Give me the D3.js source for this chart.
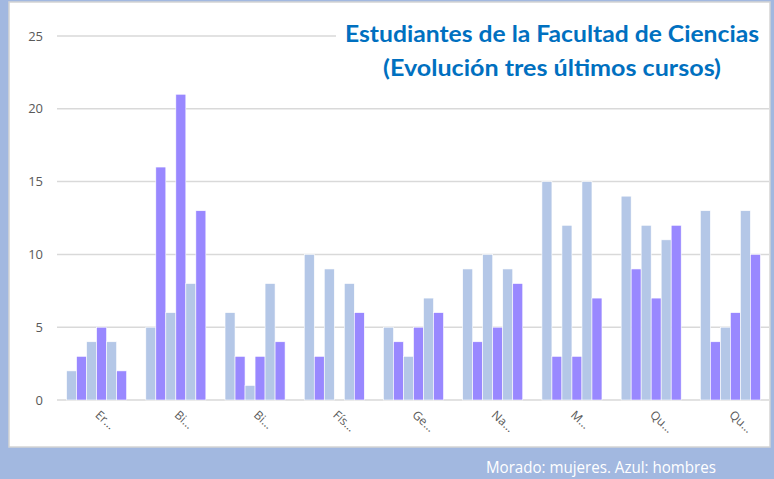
<!DOCTYPE html>
<html>
<head>
<meta charset="utf-8">
<script src="https://cdn.jsdelivr.net/npm/d3@7"></script>
<style>
  body { margin: 0; background: #a2b8e0; }
  svg { display: block; }
</style>
</head>
<body>
<svg id="chart" width="774" height="479"></svg>
<script>
// categorias (nombres cortados como en el original)
const categories = ["Er…", "Bi…", "Bi…", "Fís…", "Ge…", "Na…", "M…", "Qu…", "Qu…"];
const series = ["h1", "m1", "h2", "m2", "h3", "m3"]; // hombres / mujeres por curso
const yTicks = [0, 5, 10, 15, 20, 25];

// valores por categoria, en el orden de series
const er = [2, 3, 4, 5, 4, 2];
const bi1 = [5, 16, 6, 21, 8, 13];
const bi2 = [6, 3, 1, 3, 8, 4];
const fis = [10, 3, 9, 0, 8, 6];
const geo = [5, 4, 3, 5, 7, 6];
const nat = [9, 4, 10, 5, 9, 8];
const mat = [15, 3, 12, 3, 15, 7];
const qu1 = [14, 9, 12, 7, 11, 12];
const qu2 = [13, 4, 5, 6, 13, 10];
const values = [er, bi1, bi2, fis, geo, nat, mat, qu1, qu2];

const svg = d3.select("#chart");

// panel blanco
svg.append("rect")
  .attr("x", 9).attr("y", 2)
  .attr("width", 761).attr("height", 445)
  .attr("fill", "#fff")
  .attr("stroke", "#d4d4d4")
  .attr("stroke-width", 1.5);

const x0 = d3.scaleBand()
  .domain(d3.range(categories.length))
  .range([57, 770])
  .padding(0);

const pad = x0.bandwidth() * 0.121;
const x1 = d3.scaleBand()
  .domain(series)
  .range([pad, x0.bandwidth() - pad]);

const y = d3.scaleLinear().domain([0, 25]).range([400, 36]);

// lineas de la rejilla
svg.append("g")
  .selectAll("line")
  .data(yTicks)
  .join("line")
  .attr("x1", 57)
  .attr("x2", 769)
  .attr("y1", (d) => y(d))
  .attr("y2", (d) => y(d))
  .attr("stroke", "#d9d9d9")
  .attr("stroke-width", 1.5);

// eje y
const yAxis = svg.append("g")
  .attr("transform", "translate(43,0)")
  .call(d3.axisLeft(y).tickValues(yTicks).tickSize(0).tickPadding(0));
yAxis.select(".domain").remove();
yAxis.selectAll("text")
  .attr("fill", "#595959")
  .attr("font-family", "Open Sans, sans-serif")
  .attr("font-size", 13);

// barras
const colors = { h: "#b4c7e7", m: "#9988ff" };
const groups = svg.append("g")
  .selectAll("g")
  .data(values)
  .join("g")
  .attr("transform", (d, i) => "translate(" + x0(i) + ",0)");

groups.selectAll("rect")
  .data((d) => d.map((v, j) => ({ key: series[j], value: v })))
  .join("rect")
  .attr("x", (d) => x1(d.key))
  .attr("width", x1.bandwidth())
  .attr("y", (d) => y(d.value))
  .attr("height", (d) => y(0) - y(d.value))
  .attr("fill", (d) => colors[d.key[0]])
  .attr("stroke", "#fff")
  .attr("stroke-width", 0.6);

// eje x (solo etiquetas giradas)
svg.append("g")
  .selectAll("text")
  .data(categories)
  .join("text")
  .attr("transform", (d, i) => "translate(" + (x0(i) + x0.bandwidth() / 2 - 2) + ",416) rotate(42)")
  .attr("fill", "#595959")
  .attr("font-family", "Open Sans, sans-serif")
  .attr("font-size", 12)
  .text((d) => d);

// titulo con fondo blanco
svg.append("rect")
  .attr("x", 336).attr("y", 12)
  .attr("width", 433).attr("height", 76)
  .attr("fill", "#fff");

const title = svg.append("g")
  .attr("fill", "#0070c0")
  .attr("font-family", "Lato, sans-serif")
  .attr("font-weight", "bold")
  .attr("font-size", 22)
  .attr("text-anchor", "middle");

title.append("text")
  .attr("x", 552).attr("y", 42)
  .attr("textLength", 414)
  .attr("lengthAdjust", "spacingAndGlyphs")
  .text("Estudiantes de la Facultad de Ciencias");

title.append("text")
  .attr("x", 552).attr("y", 76)
  .attr("textLength", 338)
  .attr("lengthAdjust", "spacingAndGlyphs")
  .text("(Evolución tres últimos cursos)");

// nota inferior
svg.append("text")
  .attr("x", 486).attr("y", 473)
  .attr("fill", "#fff")
  .attr("font-family", "Open Sans, sans-serif")
  .attr("font-size", 17)
  .attr("textLength", 230)
  .attr("lengthAdjust", "spacingAndGlyphs")
  .text("Morado: mujeres. Azul: hombres");
</script>
</body>
</html>
